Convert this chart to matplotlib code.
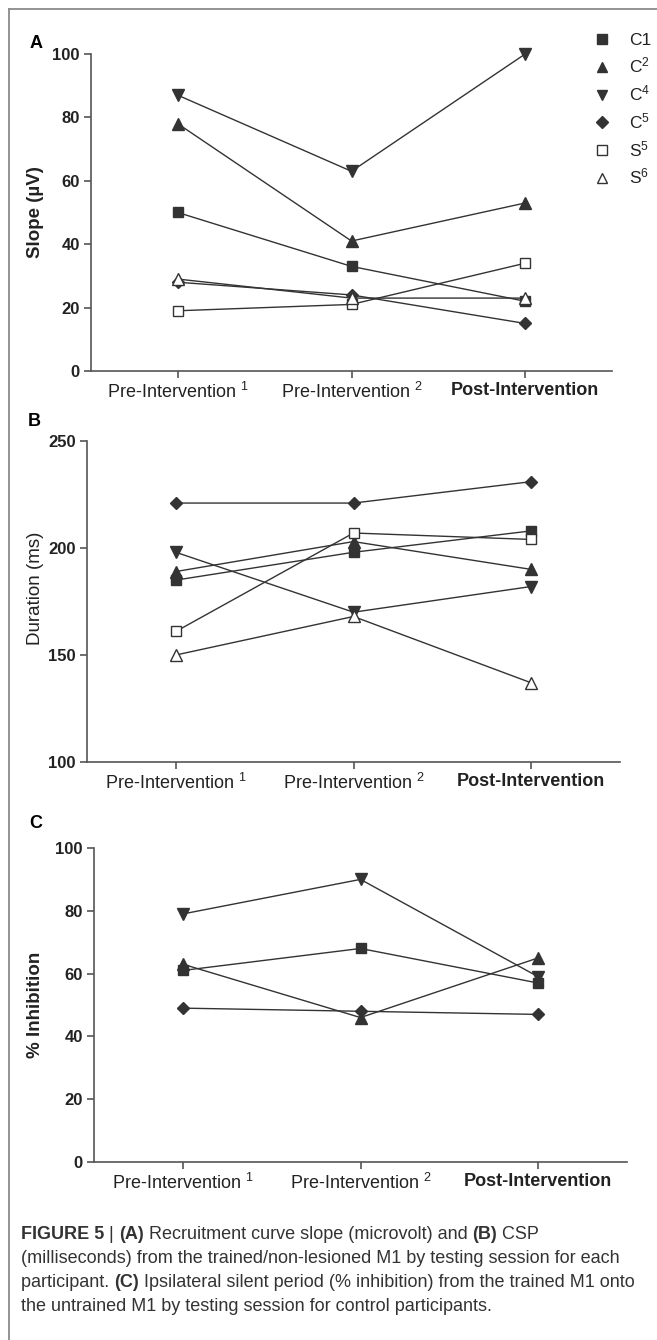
import numpy as np
import matplotlib
matplotlib.use("Agg")
import matplotlib.pyplot as plt
from matplotlib.lines import Line2D

plt.rcParams['font.family'] = ['Liberation Sans', 'DejaVu Sans']
plt.rcParams['mathtext.fontset'] = 'custom'
plt.rcParams['mathtext.rm'] = 'Liberation Sans'
plt.rcParams['mathtext.it'] = 'Liberation Sans:italic'
plt.rcParams['mathtext.bf'] = 'Liberation Sans:bold'

# --- data ---
sessions = [r"Pre-Intervention $^{1}$", r"Pre-Intervention $^{2}$", "Post-Intervention"]
legend_labels = ["C1", r"C$^{2}$", r"C$^{4}$", r"C$^{5}$", r"S$^{5}$", r"S$^{6}$"]
markers = ["s", "^", "v", "D", "s", "^"]
filled = [True, True, True, True, False, False]

# rows: C1, C2, C4, C5, S5, S6
slope = [[50, 33, 22], [78, 41, 53], [87, 63, 100], [28, 24, 15], [19, 21, 34], [29, 23, 23]]
duration = [[185, 198, 208], [189, 203, 190], [198, 170, 182], [221, 221, 231],
            [161, 207, 204], [150, 168, 137]]
# controls only: C1, C2, C4, C5
inhibition = [[61, 68, 57], [63, 46, 65], [79, 90, 59], [49, 48, 47]]

W, H = 657, 1340
fig = plt.figure(figsize=(W / 100, H / 100), dpi=100)

LINE = "#333333"
SPINE = "#555555"


def px_rect(left, right, top, bottom):
    return [left / W, 1 - bottom / H, (right - left) / W, (bottom - top) / H]


panels = [
    ("A", slope, "Slope (µV)", "bold", (0, 100), [0, 20, 40, 60, 80, 100],
     px_rect(91, 612, 54, 371), (-0.091, 0.5), (30, 43)),
    ("B", duration, "Duration (ms)", "normal", (100, 250), [100, 150, 200, 250],
     px_rect(87, 620, 441, 762), (-0.081, 0.54), (28, 422)),
    ("C", inhibition, "% Inhibition", "bold", (0, 100), [0, 20, 40, 60, 80, 100],
     px_rect(94, 627, 848, 1162), (-0.094, 0.5), (29, 823)),
]

x = np.arange(len(sessions))
msize = {"s": 7.5, "^": 8, "v": 8, "D": 6.5}

for label, data, ylabel, yweight, ylim, yticks, rect, lpos, ppos in panels:
    ax = fig.add_axes(rect)
    for i, vals in enumerate(data):
        ax.plot(x, vals, color=LINE, lw=1.0, marker=markers[i],
                markersize=msize[markers[i]],
                markerfacecolor=LINE if filled[i] else "white",
                markeredgecolor=LINE, markeredgewidth=1.0, zorder=3,
                clip_on=False)
    ax.set_xlim(-0.5, 2.5)
    ax.set_ylim(*ylim)
    ax.set_yticks(yticks)
    ax.set_xticks(x)
    ax.set_xticklabels(sessions, fontsize=13, color="#222222")
    ax.get_xticklabels()[2].set_fontweight("bold")
    for t in ax.get_yticklabels():
        t.set_fontweight("bold")
        t.set_fontsize(12)
        t.set_color("#222222")
    ax.spines[["top", "right"]].set_visible(False)
    for s in ["left", "bottom"]:
        ax.spines[s].set_color(SPINE)
        ax.spines[s].set_linewidth(1.2)
    ax.tick_params(direction="out", length=5, width=1.2, color=SPINE, pad=3)
    ax.set_ylabel(ylabel, fontsize=13.5, fontweight=yweight, color="#222222")
    ax.yaxis.set_label_coords(*lpos)
    fig.text(ppos[0] / W, 1 - ppos[1] / H, label, fontsize=13, fontweight="bold",
             va="center", ha="left")
    ax.patch.set_visible(False)

# legend (markers only)
handles = [Line2D([], [], linestyle="None", marker=m, markersize=msize[m] - 0.5,
                  markerfacecolor=LINE if f else "white", markeredgecolor=LINE,
                  markeredgewidth=1.0) for m, f in zip(markers, filled)]
fig.legend(handles, legend_labels, loc="upper left",
           bbox_to_anchor=(593 / W, 1 - 33 / H), frameon=False, fontsize=12.5,
           handlelength=1.0, handletextpad=1.1, labelspacing=0.45,
           borderaxespad=0, borderpad=0, labelcolor="#222222")

# frame lines of the page
fig.add_artist(Line2D([9 / W, 9 / W], [0, 1 - 9 / H], transform=fig.transFigure,
                      color="#8a8a8a", lw=1.3))
fig.add_artist(Line2D([9 / W, 1], [1 - 9 / H, 1 - 9 / H], transform=fig.transFigure,
                      color="#8a8a8a", lw=1.3))

# caption with mixed weights
cap_font = ["Liberation Sans Narrow", "Liberation Sans", "DejaVu Sans"]
caption = [
    [("FIGURE 5", "bold"), (" | ", "normal"), ("(A)", "bold"),
     (" Recruitment curve slope (microvolt) and ", "normal"), ("(B)", "bold"),
     (" CSP", "normal")],
    [("(milliseconds) from the trained/non-lesioned M1 by testing session for each", "normal")],
    [("participant. ", "normal"), ("(C)", "bold"),
     (" Ipsilateral silent period (% inhibition) from the trained M1 onto", "normal")],
    [("the untrained M1 by testing session for control participants.", "normal")],
]
renderer = fig.canvas.get_renderer()
for k, parts in enumerate(caption):
    xpos = 21 / W
    ypos = 1 - (1239 + 24 * k) / H
    for txt, weight in parts:
        t = fig.text(xpos, ypos, txt, fontsize=13, fontweight=weight,
                     family=cap_font, color="#333333", va="baseline", ha="left")
        bb = t.get_window_extent(renderer=renderer)
        xpos += bb.width / W

fig.savefig("out.png", dpi=100)
